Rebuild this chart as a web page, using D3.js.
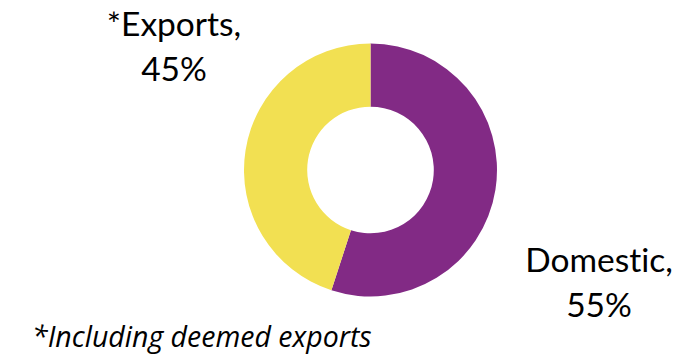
<!DOCTYPE html>
<html>
<head>
<meta charset="utf-8">
<script src="https://cdn.jsdelivr.net/npm/d3@7"></script>
<style>
  body { margin: 0; background: #fff; }
  text { font-family: Lato, "Open Sans", sans-serif; fill: #000; font-variant-ligatures: none; }
</style>
</head>
<body>
<div id="donut"></div>
<script>
// data
const categories = ["Domestic", "*Exports"];
const shares = [55, 45];
const colors = ["#822A85", "#F2E052"];
const footnote = "*Including deemed exports";

const width = 700, height = 357;
const cx = 370.5, cy = 170;
const outerR = 126.5, innerR = 63.3;

const svg = d3.select("#donut").append("svg")
    .attr("width", width)
    .attr("height", height);

const data = categories.map((c, i) => ({ name: c, value: shares[i], color: colors[i] }));

const pie = d3.pie()
    .sort(null)
    .value(d => d.value);

const arc = d3.arc()
    .innerRadius(innerR)
    .outerRadius(outerR);

const g = svg.append("g")
    .attr("transform", `translate(${cx},${cy})`);

g.selectAll("path")
    .data(pie(data))
    .enter()
    .append("path")
    .attr("d", arc)
    .attr("fill", d => d.data.color);

// labels sit outside the ring like the original
const labelPos = [
    { x: 599, y: 272 },   // Domestic
    { x: 174, y: 36 }     // Exports
];

data.forEach((d, i) => {
    const t = svg.append("text")
        .attr("text-anchor", "middle")
        .style("font-size", "33.5px");
    t.append("tspan")
        .attr("x", labelPos[i].x)
        .attr("y", labelPos[i].y)
        .text(d.name + ",");
    t.append("tspan")
        .attr("x", labelPos[i].x)
        .attr("y", labelPos[i].y + 45)
        .text(d.value + "%");
});

svg.append("text")
    .attr("x", 32)
    .attr("y", 347)
    .style("font-family", "'Open Sans', sans-serif")
    .style("font-size", "28.5px")
    .style("font-style", "italic")
    .text(footnote);
</script>
</body>
</html>
